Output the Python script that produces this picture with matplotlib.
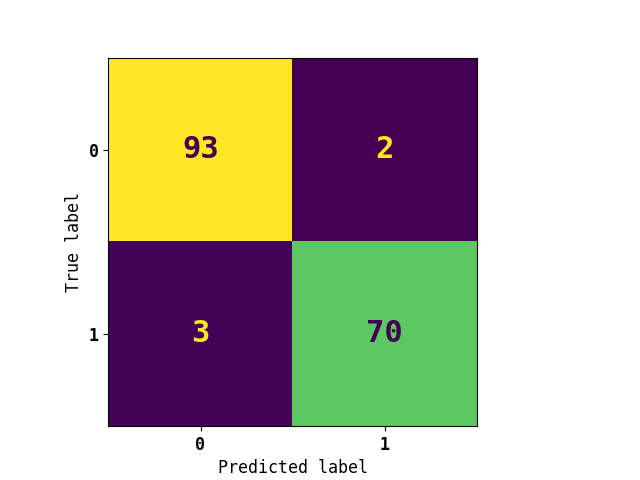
import numpy as np
import matplotlib
matplotlib.use("Agg")
import matplotlib.pyplot as plt

class_labels = ["0", "1"]
cm_values = [[93, 2],
             [3, 70]]

plt.rcParams["font.family"] = ["DejaVu Sans Mono"]

cm = np.array(cm_values)
cmap = plt.get_cmap("viridis")

fig = plt.figure(figsize=(6.4, 4.8), dpi=100)
ax = fig.add_axes([108 / 640, 54 / 480, 369 / 640, 368 / 480])
im = ax.imshow(cm, cmap=cmap, interpolation="nearest")

low, high = cmap(0.0), cmap(1.0)
thresh = (cm.max() + cm.min()) / 2.0
for i in range(cm.shape[0]):
    for j in range(cm.shape[1]):
        color = high if cm[i, j] < thresh else low
        ax.text(j, i, str(cm[i, j]), ha="center", va="center",
                color=color, fontsize=22, fontweight="bold")

ax.set_xticks(range(len(class_labels)))
ax.set_yticks(range(len(class_labels)))
ax.set_xticklabels(class_labels, fontsize=12, fontweight="bold")
ax.set_yticklabels(class_labels, fontsize=12, fontweight="bold")
ax.set_xlabel("Predicted label", fontsize=12)
ax.set_ylabel("True label", fontsize=12)
ax.set_ylim(len(class_labels) - 0.5, -0.5)

fig.savefig("out.png", dpi=100)
